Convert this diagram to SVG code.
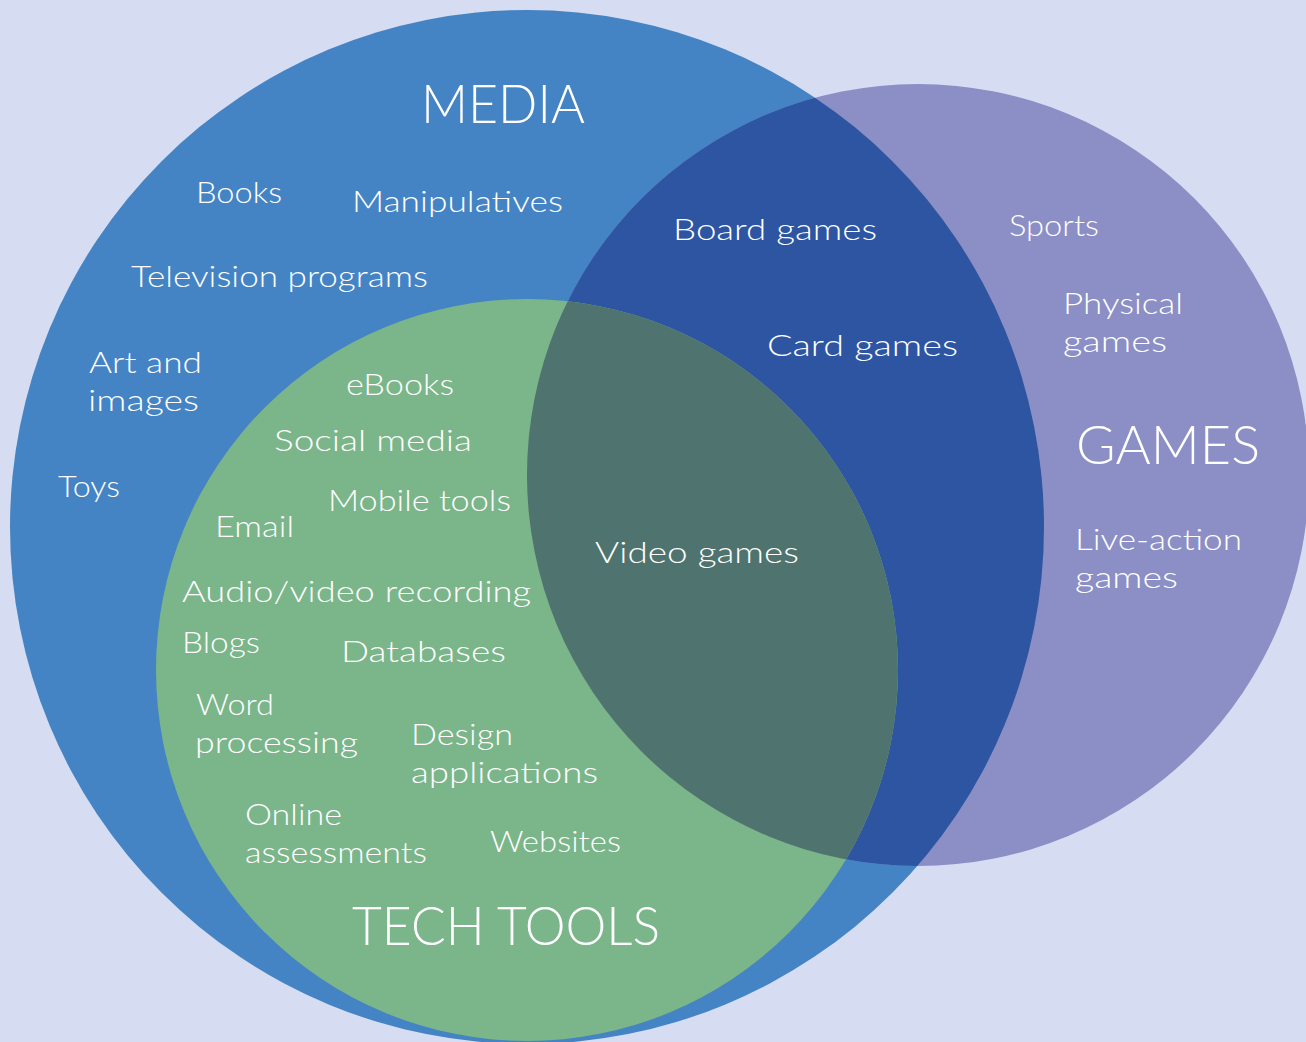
<svg xmlns="http://www.w3.org/2000/svg" width="1306" height="1042" viewBox="0 0 1306 1042">
<style>
text{fill:#FFFFFF;font-family:Lato,"Liberation Sans",Arial,sans-serif;font-weight:300;}
.i{font-size:30px;}
.h{font-size:53px;}
</style>
<defs>
<clipPath id="clipMedia"><circle cx="527" cy="527" r="517"/></clipPath>
<clipPath id="clipTech"><circle cx="527" cy="670" r="371"/></clipPath>
</defs>
<rect id="background" x="0" y="0" width="1306" height="1042" fill="#D6DDF2"/>
<g id="shapes">
<circle id="media-circle" cx="527" cy="527" r="517" fill="#4584C4"/>
<circle id="games-circle" cx="918" cy="475" r="391" fill="#8B8FC5"/>
<circle id="media-games-overlap" cx="918" cy="475" r="391" fill="#2D55A2" clip-path="url(#clipMedia)"/>
<circle id="tech-circle" cx="527" cy="670" r="371" fill="#7BB58A"/>
<circle id="tech-games-overlap" cx="918" cy="475" r="391" fill="#4F736E" clip-path="url(#clipTech)"/>
</g>
<g id="media">
<text class="h" x="421" y="123" textLength="164" lengthAdjust="spacingAndGlyphs">MEDIA</text>
<text class="i" x="196" y="203" textLength="86" lengthAdjust="spacingAndGlyphs">Books</text>
<text class="i" x="352" y="212" textLength="211" lengthAdjust="spacingAndGlyphs">Manipulatives</text>
<text class="i" x="131" y="287" textLength="297" lengthAdjust="spacingAndGlyphs">Television programs</text>
<text class="i" x="89" y="373" textLength="113" lengthAdjust="spacingAndGlyphs">Art and</text>
<text class="i" x="88" y="411" textLength="111" lengthAdjust="spacingAndGlyphs">images</text>
<text class="i" x="58" y="497" textLength="62" lengthAdjust="spacingAndGlyphs">Toys</text>
</g>
<g id="media-games">
<text class="i" x="673" y="240" textLength="204" lengthAdjust="spacingAndGlyphs">Board games</text>
<text class="i" x="767" y="356" textLength="191" lengthAdjust="spacingAndGlyphs">Card games</text>
</g>
<g id="games">
<text class="i" x="1009" y="236" textLength="90" lengthAdjust="spacingAndGlyphs">Sports</text>
<text class="i" x="1063" y="314" textLength="120" lengthAdjust="spacingAndGlyphs">Physical</text>
<text class="i" x="1063" y="352" textLength="104" lengthAdjust="spacingAndGlyphs">games</text>
<text class="h" x="1076" y="464" textLength="184" lengthAdjust="spacingAndGlyphs">GAMES</text>
<text class="i" x="1075" y="550" textLength="167" lengthAdjust="spacingAndGlyphs">Live-action</text>
<text class="i" x="1075" y="588" textLength="103" lengthAdjust="spacingAndGlyphs">games</text>
</g>
<g id="tech-games">
<text class="i" x="595" y="563" textLength="204" lengthAdjust="spacingAndGlyphs">Video games</text>
</g>
<g id="tech-tools">
<text class="i" x="346" y="395" textLength="108" lengthAdjust="spacingAndGlyphs">eBooks</text>
<text class="i" x="274" y="451" textLength="198" lengthAdjust="spacingAndGlyphs">Social media</text>
<text class="i" x="328" y="511" textLength="183" lengthAdjust="spacingAndGlyphs">Mobile tools</text>
<text class="i" x="215" y="537" textLength="79" lengthAdjust="spacingAndGlyphs">Email</text>
<text class="i" x="182" y="602" textLength="349" lengthAdjust="spacingAndGlyphs">Audio/video recording</text>
<text class="i" x="182" y="653" textLength="78" lengthAdjust="spacingAndGlyphs">Blogs</text>
<text class="i" x="341" y="662" textLength="165" lengthAdjust="spacingAndGlyphs">Databases</text>
<text class="i" x="196" y="715" textLength="78" lengthAdjust="spacingAndGlyphs">Word</text>
<text class="i" x="195" y="753" textLength="163" lengthAdjust="spacingAndGlyphs">processing</text>
<text class="i" x="411" y="745" textLength="102" lengthAdjust="spacingAndGlyphs">Design</text>
<text class="i" x="411" y="783" textLength="187" lengthAdjust="spacingAndGlyphs">applications</text>
<text class="i" x="245" y="825" textLength="97" lengthAdjust="spacingAndGlyphs">Online</text>
<text class="i" x="245" y="863" textLength="182" lengthAdjust="spacingAndGlyphs">assessments</text>
<text class="i" x="490" y="852" textLength="131" lengthAdjust="spacingAndGlyphs">Websites</text>
<text class="h" x="352" y="945" textLength="308" lengthAdjust="spacingAndGlyphs">TECH TOOLS</text>
</g>
</svg>
